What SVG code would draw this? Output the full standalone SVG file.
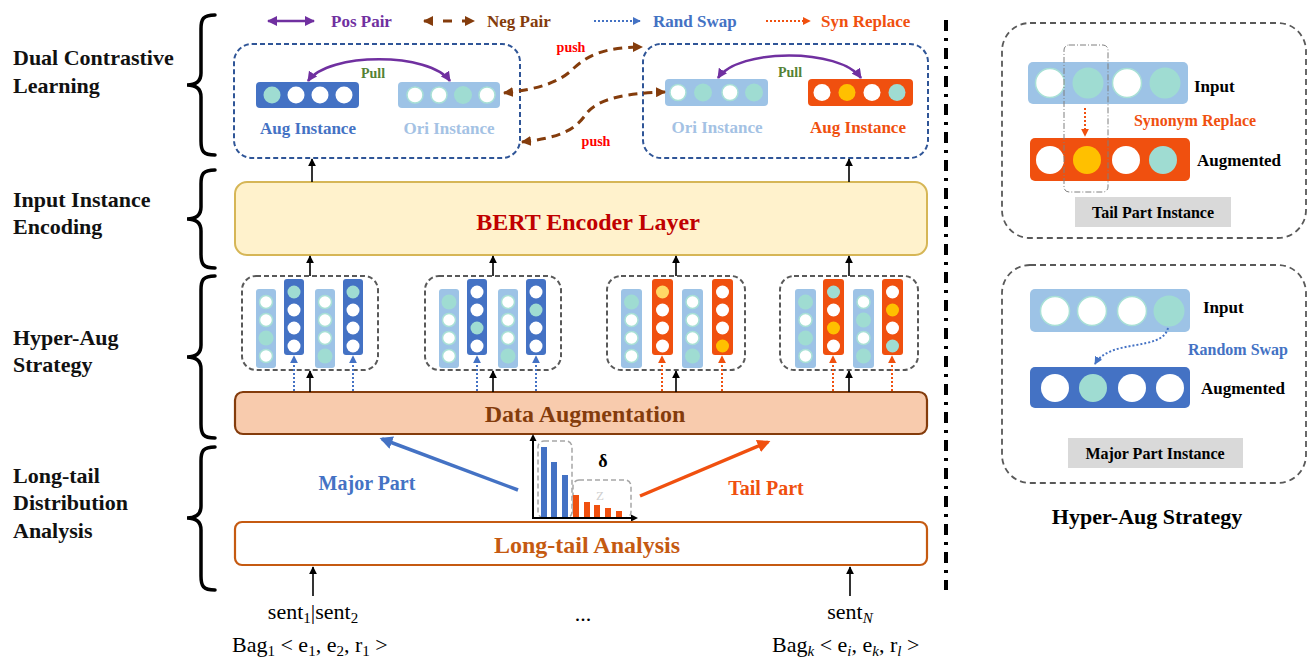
<svg xmlns="http://www.w3.org/2000/svg" width="1308" height="662" viewBox="0 0 1308 662">
  <style>
    .lbl{font-family:"Liberation Serif","Times New Roman",serif;font-weight:bold}
    .reg{font-family:"Liberation Serif","Times New Roman",serif}
    .stage{font-size:22px;fill:#111}
    .brace{fill:none;stroke:#000;stroke-width:3.5;stroke-linecap:round}
    .navybox{fill:none;stroke:#2f5597;stroke-width:2;stroke-dasharray:5 3}
    .graybox{fill:none;stroke:#595959;stroke-width:2;stroke-dasharray:5 3}
    .panel{fill:none;stroke:#595959;stroke-width:1.8;stroke-dasharray:6 4}
    .bd{fill:#4472c4}
    .bl{fill:#9dc3e6}
    .br{fill:#f0500f}
    .cw{fill:#fff}
    .cwo{fill:#fff;stroke:#a8e0d6;stroke-width:1.5}
    .ct{fill:#9fdcd2}
    .cy{fill:#ffc000}
    .cyl{fill:#ffd966}
    .solid{stroke:#000;stroke-width:1.6;fill:none}
    .dotb{stroke:#4472c4;stroke-width:2;stroke-dasharray:2 2;fill:none}
    .doto{stroke:#f0500f;stroke-width:2;stroke-dasharray:2 2;fill:none}
    .pos{stroke:#7030a0;stroke-width:2.6;fill:none}
    .neg{stroke:#843c0c;stroke-width:3;stroke-dasharray:9 6;fill:none}
    .math{font-family:"Liberation Serif","Times New Roman",serif;font-size:22px;fill:#000}
    .sub{font-size:15px}
  </style>
  <defs>
    <marker id="ahK" viewBox="0 0 10 10" refX="9" refY="5" markerWidth="8" markerHeight="9" markerUnits="userSpaceOnUse" orient="auto-start-reverse"><path d="M0,0 L10,5 L0,10 z" fill="#000"/></marker>
    <marker id="ahP" viewBox="0 0 10 10" refX="9" refY="5" markerWidth="10" markerHeight="10" markerUnits="userSpaceOnUse" orient="auto-start-reverse"><path d="M0,0 L10,5 L0,10 z" fill="#7030a0"/></marker>
    <marker id="ahN" viewBox="0 0 10 10" refX="9" refY="5" markerWidth="10" markerHeight="10" markerUnits="userSpaceOnUse" orient="auto-start-reverse"><path d="M0,0 L10,5 L0,10 z" fill="#843c0c"/></marker>
    <marker id="ahB" viewBox="0 0 10 10" refX="9" refY="5" markerWidth="8" markerHeight="8" markerUnits="userSpaceOnUse" orient="auto-start-reverse"><path d="M0,0 L10,5 L0,10 z" fill="#4472c4"/></marker>
    <marker id="ahO" viewBox="0 0 10 10" refX="9" refY="5" markerWidth="8" markerHeight="8" markerUnits="userSpaceOnUse" orient="auto-start-reverse"><path d="M0,0 L10,5 L0,10 z" fill="#f0500f"/></marker>
    <marker id="ahMaj" viewBox="0 0 10 10" refX="8" refY="5" markerWidth="13" markerHeight="13" markerUnits="userSpaceOnUse" orient="auto"><path d="M0,0 L10,5 L0,10 z" fill="#4472c4"/></marker>
    <marker id="ahTail" viewBox="0 0 10 10" refX="8" refY="5" markerWidth="13" markerHeight="13" markerUnits="userSpaceOnUse" orient="auto"><path d="M0,0 L10,5 L0,10 z" fill="#f0500f"/></marker>
  </defs>

  <!-- stage labels with braces -->
  <g id="stage-labels">
    <text class="lbl stage" x="13" y="65">Dual Contrastive</text>
    <text class="lbl stage" x="13" y="93">Learning</text>
    <text class="lbl stage" x="13" y="207">Input Instance</text>
    <text class="lbl stage" x="13" y="234">Encoding</text>
    <text class="lbl stage" x="13" y="345">Hyper-Aug</text>
    <text class="lbl stage" x="13" y="372">Strategy</text>
    <text class="lbl stage" x="13" y="483">Long-tail</text>
    <text class="lbl stage" x="13" y="510">Distribution</text>
    <text class="lbl stage" x="13" y="538">Analysis</text>
    <path class="brace" d="M215,15 C203,15 201,19 201,29 L201,73 C201,81 196,85 187,85 C196,85 201,89 201,97 L201,141 C201,151 203,155 215,155"/>
    <path class="brace" d="M215,170 C203,170 201,174 201,184 L201,207 C201,215 196,219 187,219 C196,219 201,223 201,231 L201,254 C201,264 203,268 215,268"/>
    <path class="brace" d="M215,276 C203,276 201,280 201,290 L201,345 C201,353 196,357 187,357 C196,357 201,361 201,369 L201,424 C201,434 203,438 215,438"/>
    <path class="brace" d="M215,447 C203,447 201,451 201,461 L201,506 C201,514 196,518 187,518 C196,518 201,522 201,530 L201,576 C201,586 203,590 215,590"/>
  </g>

  <!-- legend -->
  <g id="legend">
    <line class="pos" x1="268" y1="21" x2="314" y2="21" marker-start="url(#ahP)" marker-end="url(#ahP)"/>
    <text class="lbl" x="331" y="27" font-size="17" fill="#7030a0">Pos Pair</text>
    <line x1="424" y1="21" x2="474" y2="21" stroke="#843c0c" stroke-width="3" stroke-dasharray="9 10" marker-start="url(#ahN)" marker-end="url(#ahN)"/>
    <text class="lbl" x="487" y="27" font-size="17" fill="#843c0c">Neg Pair</text>
    <line class="dotb" x1="594" y1="21" x2="640" y2="21" marker-end="url(#ahB)"/>
    <text class="lbl" x="653" y="27" font-size="17" fill="#4472c4">Rand Swap</text>
    <line class="doto" x1="766" y1="21" x2="810" y2="21" marker-end="url(#ahO)"/>
    <text class="lbl" x="821" y="27" font-size="17" fill="#f0500f">Syn Replace</text>
  </g>

  <!-- contrastive pair, left -->
  <g id="pair-left">
    <rect class="navybox" x="234" y="44" width="286" height="114" rx="18"/>
    <rect class="bd" x="256" y="82" width="103" height="26" rx="4"/>
    <circle class="ct" cx="272" cy="95" r="8.5"/>
    <circle class="cw" cx="296" cy="95" r="8.5"/>
    <circle class="cw" cx="320" cy="95" r="8.5"/>
    <circle class="cw" cx="344" cy="95" r="8.5"/>
    <rect class="bl" x="398" y="82" width="102" height="26" rx="4"/>
    <circle class="cwo" cx="415" cy="95" r="8"/>
    <circle class="cwo" cx="439" cy="95" r="8"/>
    <circle class="ct" cx="463" cy="95" r="9"/>
    <circle class="cwo" cx="487" cy="95" r="8"/>
    <path class="pos" d="M308,81 C328,52 430,52 450,81" marker-start="url(#ahP)" marker-end="url(#ahP)"/>
    <text class="lbl" x="373" y="78" font-size="14" fill="#548235" text-anchor="middle">Pull</text>
    <text class="lbl" x="308" y="134" font-size="17" fill="#4472c4" text-anchor="middle">Aug Instance</text>
    <text class="lbl" x="449" y="134" font-size="17" fill="#a4c2e4" text-anchor="middle">Ori Instance</text>
  </g>

  <!-- contrastive pair, right -->
  <g id="pair-right">
    <rect class="navybox" x="643" y="44" width="285" height="114" rx="18"/>
    <rect class="bl" x="665" y="79" width="103" height="27" rx="4"/>
    <circle class="cwo" cx="678" cy="92.5" r="8"/>
    <circle class="ct" cx="703" cy="92.5" r="9"/>
    <circle class="cwo" cx="730" cy="92.5" r="8"/>
    <circle class="ct" cx="754" cy="92.5" r="9"/>
    <rect class="br" x="808" y="79" width="105" height="27" rx="4"/>
    <circle class="cw" cx="822" cy="92.5" r="8.5"/>
    <circle class="cy" cx="847" cy="92.5" r="8.5"/>
    <circle class="cw" cx="872" cy="92.5" r="8.5"/>
    <circle class="ct" cx="897" cy="92.5" r="8.5"/>
    <path class="pos" d="M718,78 C738,48 840,48 861,78" marker-start="url(#ahP)" marker-end="url(#ahP)"/>
    <text class="lbl" x="790" y="77" font-size="14" fill="#548235" text-anchor="middle">Pull</text>
    <text class="lbl" x="717" y="133" font-size="17" fill="#a4c2e4" text-anchor="middle">Ori Instance</text>
    <text class="lbl" x="858" y="133" font-size="17" fill="#f0500f" text-anchor="middle">Aug Instance</text>
  </g>

  <!-- encoder -->
  <g id="bert">
    <rect x="235" y="182" width="692" height="73" rx="12" fill="#fff2cc" stroke="#d6b656" stroke-width="2"/>
    <text class="lbl" x="588" y="230" font-size="24" fill="#c00000" text-anchor="middle">BERT Encoder Layer</text>
  </g>

  <!-- hyper-aug groups: light = original bar, dark/red = augmented bar -->
  <g id="aug-group-1" transform="translate(242,276)">
    <rect class="graybox" x="0" y="0" width="136" height="94" rx="14"/>
    <rect class="bl" x="14" y="13" width="20" height="79" rx="3"/>
    <circle class="cwo" cx="24" cy="26" r="6.5"/><circle class="cwo" cx="24" cy="44" r="6.5"/><circle class="ct" cx="24" cy="62" r="7.5"/><circle class="cwo" cx="24" cy="80" r="6.5"/>
    <rect class="bd" x="42" y="3" width="20" height="76" rx="3"/>
    <circle class="ct" cx="52" cy="16" r="6.5"/><circle class="cw" cx="52" cy="34" r="6.5"/><circle class="cw" cx="52" cy="52" r="6.5"/><circle class="cw" cx="52" cy="70" r="6.5"/>
    <rect class="bl" x="73" y="13" width="20" height="79" rx="3"/>
    <circle class="cwo" cx="83" cy="26" r="6.5"/><circle class="cwo" cx="83" cy="44" r="6.5"/><circle class="cwo" cx="83" cy="62" r="6.5"/><circle class="ct" cx="83" cy="80" r="7.5"/>
    <rect class="bd" x="101" y="3" width="20" height="76" rx="3"/>
    <circle class="ct" cx="111" cy="16" r="6.5"/><circle class="cw" cx="111" cy="34" r="6.5"/><circle class="cw" cx="111" cy="52" r="6.5"/><circle class="cw" cx="111" cy="70" r="6.5"/>
  </g>
  <g id="aug-group-2" transform="translate(425,276)">
    <rect class="graybox" x="0" y="0" width="136" height="94" rx="14"/>
    <rect class="bl" x="14" y="13" width="20" height="79" rx="3"/>
    <circle class="ct" cx="24" cy="26" r="7.5"/><circle class="cwo" cx="24" cy="44" r="6.5"/><circle class="cwo" cx="24" cy="62" r="6.5"/><circle class="cwo" cx="24" cy="80" r="6.5"/>
    <rect class="bd" x="42" y="3" width="20" height="76" rx="3"/>
    <circle class="cw" cx="52" cy="16" r="6.5"/><circle class="cw" cx="52" cy="34" r="6.5"/><circle class="ct" cx="52" cy="52" r="6.5"/><circle class="cw" cx="52" cy="70" r="6.5"/>
    <rect class="bl" x="73" y="13" width="20" height="79" rx="3"/>
    <circle class="cwo" cx="83" cy="26" r="6.5"/><circle class="cwo" cx="83" cy="44" r="6.5"/><circle class="cwo" cx="83" cy="62" r="6.5"/><circle class="ct" cx="83" cy="80" r="7.5"/>
    <rect class="bd" x="101" y="3" width="20" height="76" rx="3"/>
    <circle class="cw" cx="111" cy="16" r="6.5"/><circle class="ct" cx="111" cy="34" r="6.5"/><circle class="cw" cx="111" cy="52" r="6.5"/><circle class="cw" cx="111" cy="70" r="6.5"/>
  </g>
  <g id="aug-group-3" transform="translate(607,276)">
    <rect class="graybox" x="0" y="0" width="138" height="94" rx="14"/>
    <rect class="bl" x="14" y="13" width="21" height="79" rx="3"/>
    <circle class="ct" cx="24.5" cy="26" r="7.5"/><circle class="cwo" cx="24.5" cy="44" r="6.5"/><circle class="cwo" cx="24.5" cy="62" r="6.5"/><circle class="cwo" cx="24.5" cy="80" r="6.5"/>
    <rect class="br" x="45" y="3" width="21" height="76" rx="3"/>
    <circle class="cyl" cx="55.5" cy="16" r="6.5"/><circle class="cw" cx="55.5" cy="34" r="6.5"/><circle class="cw" cx="55.5" cy="52" r="6.5"/><circle class="cw" cx="55.5" cy="70" r="6.5"/>
    <rect class="bl" x="75" y="13" width="21" height="79" rx="3"/>
    <circle class="cwo" cx="85.5" cy="26" r="6.5"/><circle class="cwo" cx="85.5" cy="44" r="6.5"/><circle class="cwo" cx="85.5" cy="62" r="6.5"/><circle class="ct" cx="85.5" cy="80" r="7.5"/>
    <rect class="br" x="105" y="3" width="21" height="76" rx="3"/>
    <circle class="cw" cx="115.5" cy="16" r="6.5"/><circle class="cw" cx="115.5" cy="34" r="6.5"/><circle class="cw" cx="115.5" cy="52" r="6.5"/><circle class="cy" cx="115.5" cy="70" r="6.5"/>
  </g>
  <g id="aug-group-4" transform="translate(780,276)">
    <rect class="graybox" x="0" y="0" width="138" height="94" rx="14"/>
    <rect class="bl" x="15" y="13" width="21" height="79" rx="3"/>
    <circle class="ct" cx="25.5" cy="26" r="7.5"/><circle class="cwo" cx="25.5" cy="44" r="6.5"/><circle class="ct" cx="25.5" cy="62" r="7.5"/><circle class="cwo" cx="25.5" cy="80" r="6.5"/>
    <rect class="br" x="43" y="3" width="21" height="76" rx="3"/>
    <circle class="ct" cx="53.5" cy="16" r="6.5"/><circle class="cw" cx="53.5" cy="34" r="6.5"/><circle class="cy" cx="53.5" cy="52" r="6.5"/><circle class="cw" cx="53.5" cy="70" r="6.5"/>
    <rect class="bl" x="73" y="13" width="21" height="79" rx="3"/>
    <circle class="cwo" cx="83.5" cy="26" r="6.5"/><circle class="ct" cx="83.5" cy="44" r="7.5"/><circle class="cwo" cx="83.5" cy="62" r="6.5"/><circle class="ct" cx="83.5" cy="80" r="7.5"/>
    <rect class="br" x="102" y="3" width="21" height="76" rx="3"/>
    <circle class="cw" cx="112.5" cy="16" r="6.5"/><circle class="cy" cx="112.5" cy="34" r="6.5"/><circle class="cw" cx="112.5" cy="52" r="6.5"/><circle class="ct" cx="112.5" cy="70" r="6.5"/>
  </g>

  <!-- augmentation module -->
  <g id="data-augmentation">
    <rect x="235" y="392" width="692" height="42" rx="8" fill="#f8cbad" stroke="#843c0c" stroke-width="2.2"/>
    <text class="lbl" x="585" y="422" font-size="24" fill="#843c0c" text-anchor="middle">Data Augmentation</text>
  </g>

  <!-- long-tail distribution chart -->
  <g id="distribution">
    <rect x="538" y="441" width="34" height="77" rx="6" fill="none" stroke="#a6a6a6" stroke-width="1.5" stroke-dasharray="5 3"/>
    <rect x="573" y="480" width="58" height="38" rx="6" fill="none" stroke="#a6a6a6" stroke-width="1.5" stroke-dasharray="5 3"/>
    <rect x="541" y="447" width="6" height="71" fill="#4472c4"/>
    <rect x="551" y="462" width="6" height="56" fill="#4472c4"/>
    <rect x="562" y="475" width="6" height="43" fill="#4472c4"/>
    <rect x="573" y="495" width="6" height="23" fill="#f0500f"/>
    <rect x="584" y="502" width="6" height="16" fill="#f0500f"/>
    <rect x="594" y="505" width="6" height="13" fill="#f0500f"/>
    <rect x="605" y="508" width="6" height="10" fill="#f0500f"/>
    <rect x="616" y="511" width="6" height="7" fill="#f0500f"/>
    <polyline points="533,440 533,518 632,518" fill="none" stroke="#000" stroke-width="2"/>
    <path d="M529.5,441 L533,434 L536.5,441 z" fill="#000"/>
    <path d="M631,514.5 L638,518 L631,521.5 z" fill="#000"/>
    <text class="lbl" x="603" y="467" font-size="18" fill="#000" text-anchor="middle">δ</text>
    <text class="reg" x="600" y="500" font-size="13" fill="#cfcfcf" text-anchor="middle">Z</text>
  </g>

  <g id="split-labels">
    <text class="lbl" x="367" y="490" font-size="20" fill="#4472c4" text-anchor="middle">Major Part</text>
    <text class="lbl" x="766" y="495" font-size="20" fill="#f0500f" text-anchor="middle">Tail Part</text>
  </g>

  <!-- long-tail analysis module -->
  <g id="long-tail-analysis">
    <rect x="235" y="522" width="692" height="43" rx="7" fill="#fff" stroke="#c55a11" stroke-width="2.2"/>
    <text class="lbl" x="587" y="553" font-size="24" fill="#c55a11" text-anchor="middle">Long-tail Analysis</text>
  </g>

  <!-- inputs -->
  <g id="inputs">
    <text class="math" x="313" y="619" text-anchor="middle">sent<tspan class="sub" dy="4">1</tspan><tspan dy="-4">|sent</tspan><tspan class="sub" dy="4">2</tspan></text>
    <text class="math" x="583" y="621" text-anchor="middle">...</text>
    <text class="math" x="850" y="619" text-anchor="middle">sent<tspan class="sub" font-style="italic" dy="4">N</tspan></text>
    <text class="math" x="232" y="652">Bag<tspan class="sub" dy="4">1</tspan><tspan dy="-4"> &lt; e</tspan><tspan class="sub" dy="4">1</tspan><tspan dy="-4">, e</tspan><tspan class="sub" dy="4">2</tspan><tspan dy="-4">, r</tspan><tspan class="sub" dy="4">1</tspan><tspan dy="-4"> &gt;</tspan></text>
    <text class="math" x="772" y="652">Bag<tspan class="sub" font-style="italic" dy="4">k</tspan><tspan dy="-4"> &lt; e</tspan><tspan class="sub" font-style="italic" dy="4">i</tspan><tspan dy="-4">, e</tspan><tspan class="sub" font-style="italic" dy="4">k</tspan><tspan dy="-4">, r</tspan><tspan class="sub" font-style="italic" dy="4">l</tspan><tspan dy="-4"> &gt;</tspan></text>
  </g>

  <!-- connectors -->
  <g id="connectors">
    <!-- inputs to long-tail analysis -->
    <line class="solid" x1="313" y1="596" x2="313" y2="567" marker-end="url(#ahK)"/>
    <line class="solid" x1="850" y1="596" x2="850" y2="567" marker-end="url(#ahK)"/>
    <!-- split arrows -->
    <line x1="518" y1="490" x2="382" y2="439" stroke="#4472c4" stroke-width="3.5" marker-end="url(#ahMaj)"/>
    <line x1="640" y1="496" x2="768" y2="442" stroke="#f0500f" stroke-width="3.5" marker-end="url(#ahTail)"/>
    <!-- augmentation to groups -->
    <line class="solid" x1="310" y1="392" x2="310" y2="371" marker-end="url(#ahK)"/>
    <line class="solid" x1="493" y1="392" x2="493" y2="371" marker-end="url(#ahK)"/>
    <line class="solid" x1="676" y1="392" x2="676" y2="371" marker-end="url(#ahK)"/>
    <line class="solid" x1="849" y1="392" x2="849" y2="371" marker-end="url(#ahK)"/>
    <line class="dotb" x1="294" y1="391" x2="294" y2="356" marker-end="url(#ahB)"/>
    <line class="dotb" x1="353" y1="391" x2="353" y2="356" marker-end="url(#ahB)"/>
    <line class="dotb" x1="477" y1="391" x2="477" y2="356" marker-end="url(#ahB)"/>
    <line class="dotb" x1="536" y1="391" x2="536" y2="356" marker-end="url(#ahB)"/>
    <line class="doto" x1="662" y1="391" x2="662" y2="356" marker-end="url(#ahO)"/>
    <line class="doto" x1="722" y1="391" x2="722" y2="356" marker-end="url(#ahO)"/>
    <line class="doto" x1="833" y1="391" x2="833" y2="356" marker-end="url(#ahO)"/>
    <line class="doto" x1="892" y1="391" x2="892" y2="356" marker-end="url(#ahO)"/>
    <!-- groups to encoder -->
    <line class="solid" x1="310" y1="276" x2="310" y2="256" marker-end="url(#ahK)"/>
    <line class="solid" x1="493" y1="276" x2="493" y2="256" marker-end="url(#ahK)"/>
    <line class="solid" x1="676" y1="276" x2="676" y2="256" marker-end="url(#ahK)"/>
    <line class="solid" x1="849" y1="276" x2="849" y2="256" marker-end="url(#ahK)"/>
    <!-- encoder to contrastive pairs -->
    <line class="solid" x1="312" y1="182" x2="312" y2="159" marker-end="url(#ahK)"/>
    <line class="solid" x1="849" y1="182" x2="849" y2="159" marker-end="url(#ahK)"/>
    <!-- negative pairs -->
    <path class="neg" d="M504,93 C540,89 560,82 574,68 C590,53 610,47 642,47" marker-start="url(#ahN)" marker-end="url(#ahN)"/>
    <path class="neg" d="M522,142 C556,138 574,132 586,114 C598,98 628,93 665,92" marker-start="url(#ahN)" marker-end="url(#ahN)"/>
    <text class="lbl" x="571" y="52" font-size="14" fill="#ff0000" text-anchor="middle">push</text>
    <text class="lbl" x="596" y="146" font-size="14" fill="#ff0000" text-anchor="middle">push</text>
  </g>

  <!-- separator -->
  <line id="separator" x1="946" y1="20" x2="946" y2="590" stroke="#000" stroke-width="4" stroke-dasharray="11 7 3 7"/>

  <!-- strategy detail: tail part -->
  <g id="tail-instance">
    <rect class="panel" x="1002" y="23" width="304" height="215" rx="28"/>
    <rect class="bl" x="1028" y="62" width="160" height="42" rx="5"/>
    <circle class="cwo" cx="1050" cy="83" r="14.5"/>
    <circle class="ct" cx="1088" cy="83" r="15.5"/>
    <circle class="cwo" cx="1127" cy="83" r="14.5"/>
    <circle class="ct" cx="1165" cy="83" r="15.5"/>
    <rect class="br" x="1030" y="138" width="160" height="43" rx="5"/>
    <circle class="cw" cx="1050" cy="160" r="14"/>
    <circle class="cy" cx="1087" cy="160" r="14"/>
    <circle class="cw" cx="1126" cy="160" r="14"/>
    <circle class="ct" cx="1163" cy="160" r="14"/>
    <rect x="1064" y="45" width="44" height="147" rx="5" fill="none" stroke="#7f7f7f" stroke-width="1" stroke-dasharray="6 2 1 2"/>
    <line class="doto" x1="1085" y1="108" x2="1085" y2="136" stroke-width="2.5" marker-end="url(#ahO)"/>
    <text class="lbl" x="1194" y="92" font-size="17" fill="#000">Input</text>
    <text class="lbl" x="1195" y="126" font-size="16" fill="#f0500f" text-anchor="middle">Synonym Replace</text>
    <text class="lbl" x="1197" y="166" font-size="17" fill="#000">Augmented</text>
    <rect x="1075" y="197" width="156" height="30" fill="#d9d9d9"/>
    <text class="lbl" x="1153" y="218" font-size="16" fill="#000" text-anchor="middle">Tail Part Instance</text>
  </g>

  <!-- strategy detail: major part -->
  <g id="major-instance">
    <rect class="panel" x="1002" y="265" width="304" height="218" rx="28"/>
    <rect class="bl" x="1030" y="289" width="160" height="43" rx="5"/>
    <circle class="cwo" cx="1055" cy="311" r="14.5"/>
    <circle class="cwo" cx="1092" cy="311" r="14.5"/>
    <circle class="cwo" cx="1132" cy="311" r="14.5"/>
    <circle class="ct" cx="1169" cy="311" r="15.5"/>
    <rect class="bd" x="1030" y="367" width="160" height="41" rx="5"/>
    <circle class="cw" cx="1055" cy="388" r="14"/>
    <circle class="ct" cx="1093" cy="388" r="14"/>
    <circle class="cw" cx="1132" cy="388" r="14"/>
    <circle class="cw" cx="1170" cy="388" r="14"/>
    <path class="dotb" d="M1168,328 C1162,352 1110,338 1095,364" stroke-width="2.5" marker-end="url(#ahB)"/>
    <text class="lbl" x="1203" y="313" font-size="17" fill="#000">Input</text>
    <text class="lbl" x="1238" y="355" font-size="16" fill="#4472c4" text-anchor="middle">Random Swap</text>
    <text class="lbl" x="1201" y="394" font-size="17" fill="#000">Augmented</text>
    <rect x="1068" y="438" width="175" height="30" fill="#d9d9d9"/>
    <text class="lbl" x="1155" y="459" font-size="16" fill="#000" text-anchor="middle">Major Part Instance</text>
  </g>

  <text id="strategy-title" class="lbl" x="1147" y="524" font-size="22" fill="#000" text-anchor="middle">Hyper-Aug Strategy</text>
</svg>
